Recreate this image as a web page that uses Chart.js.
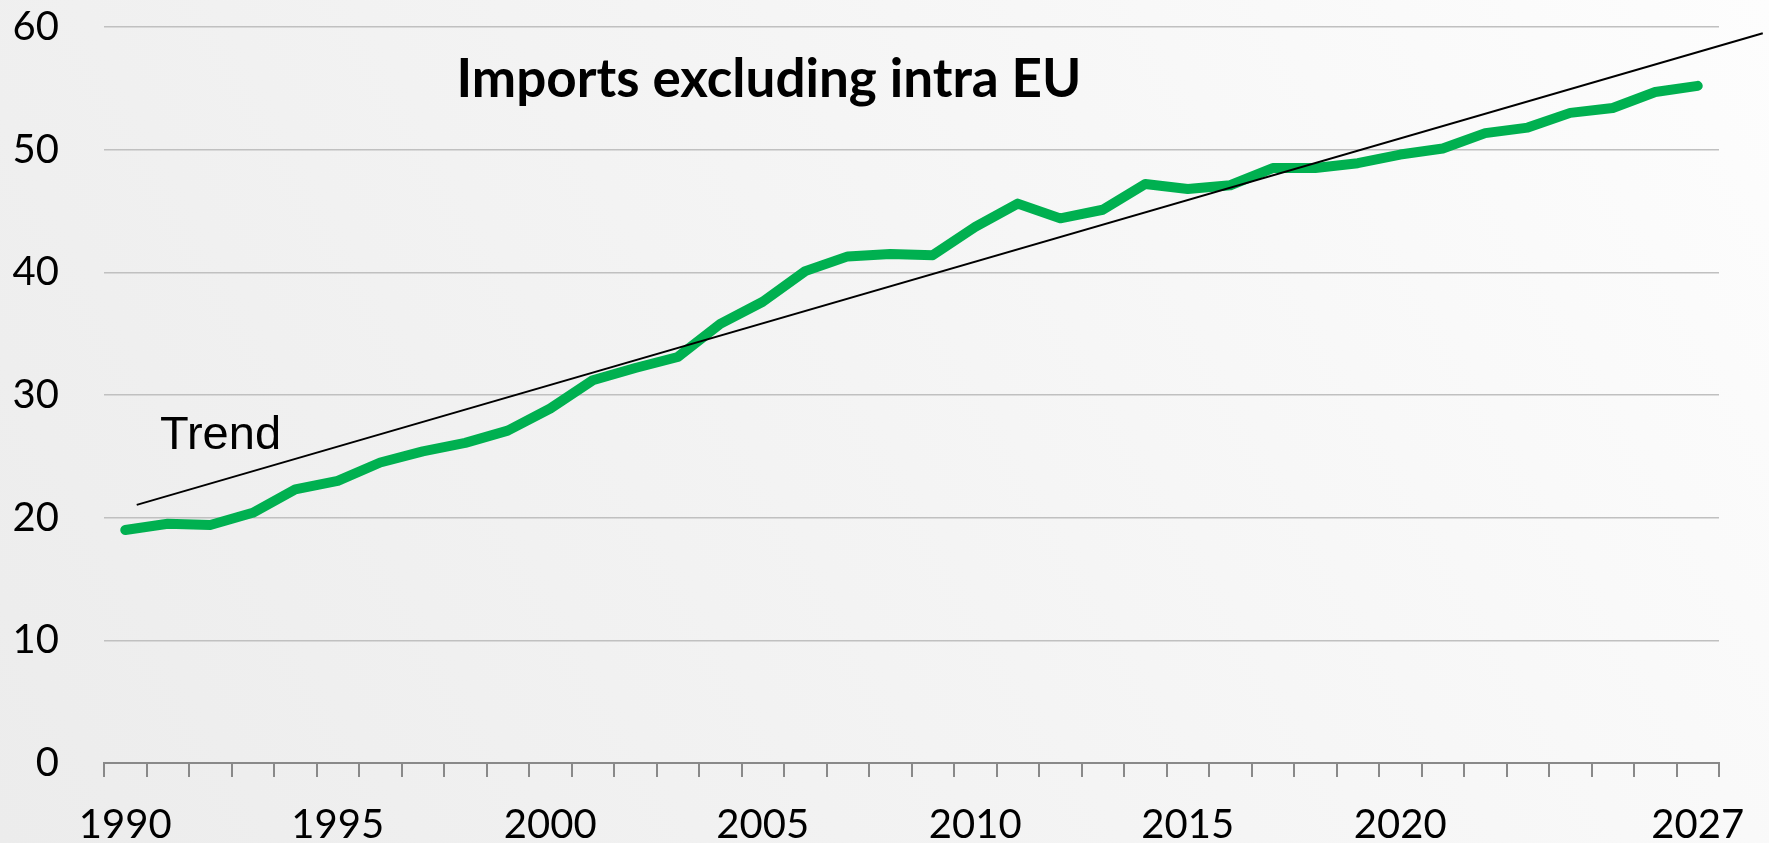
<!DOCTYPE html>
<html>
<head>
<meta charset="utf-8">
<script src="https://cdn.jsdelivr.net/npm/chart.js@4"></script>
<style>
  html, body { margin: 0; padding: 0; overflow: hidden; }
  body { background: linear-gradient(60deg, #ececec 0%, #f4f4f4 50%, #fdfdfd 100%); }
  #wrap { width: 1769px; height: 843px; position: relative; }
</style>
</head>
<body>
<div id="wrap"><canvas id="chart"></canvas></div>
<script>
// categories (years)
var years = [1990, 1991, 1992, 1993, 1994, 1995, 1996, 1997, 1998, 1999,
             2000, 2001, 2002, 2003, 2004, 2005, 2006, 2007, 2008, 2009,
             2010, 2011, 2012, 2013, 2014, 2015, 2016, 2017, 2018, 2019,
             2020, 2021, 2022, 2023, 2024, 2025, 2026, 2027];
// imports excluding intra EU
var imports = [19.0, 19.5, 19.4, 20.4, 22.3, 23.0, 24.5, 25.4, 26.1, 27.1,
               28.9, 31.2, 32.2, 33.1, 35.8, 37.6, 40.1, 41.3, 41.5, 41.4,
               43.7, 45.6, 44.4, 45.1, 47.2, 46.8, 47.1, 48.5, 48.5, 48.9,
               49.6, 50.1, 51.35, 51.8, 53.0, 53.4, 54.7, 55.2];
// trend line end points (x in category index units)
var trendX = [0.27, 38.53];
var trendY = [21.04, 59.49];
// labelled years on x axis
var tickYears = [1990, 1995, 2000, 2005, 2010, 2015, 2020, 2027];
var yTicks = [0, 10, 20, 30, 40, 50, 60];

var trendPts = trendX.map(function (x, i) { return {x: x, y: trendY[i]}; });

var textPlugin = {
    id: 'texts',
    afterDraw: function (chart) {
        var ctx = chart.ctx;
        ctx.save();
        ctx.fillStyle = '#000';
        ctx.textBaseline = 'alphabetic';
        ctx.font = 'bold 53px Lato';
        ctx.textAlign = 'center';
        ctx.fillText('Imports excluding intra EU', 769, 97);
        ctx.font = '47px "Liberation Sans"';
        ctx.textAlign = 'left';
        ctx.fillText('Trend', 160, 449);
        ctx.restore();
    }
};

var ctx = document.getElementById('chart').getContext('2d');
new Chart(ctx, {
    type: 'line',
    data: {
        labels: years,
        datasets: [
            {
                label: 'Trend',
                data: trendPts,
                xAxisID: 'xt',
                borderColor: '#000000',
                borderWidth: 2,
                pointRadius: 0,
                fill: false,
                clip: false
            },
            {
                label: 'Imports excluding intra EU',
                data: imports,
                xAxisID: 'x',
                borderColor: '#00b050',
                borderWidth: 10,
                borderCapStyle: 'round',
                borderJoinStyle: 'round',
                pointRadius: 0,
                tension: 0,
                fill: false
            }
        ]
    },
    options: {
        responsive: true,
        maintainAspectRatio: false,
        animation: false,
        layout: { padding: { top: 27, right: 50, left: 0, bottom: 0 } },
        plugins: { legend: { display: false }, tooltip: { enabled: false } },
        scales: {
            x: {
                type: 'category',
                offset: true,
                grid: {
                    offset: true,
                    drawOnChartArea: false,
                    drawTicks: true,
                    tickLength: 14,
                    color: '#898989',
                    lineWidth: 2
                },
                border: { display: true, color: '#898989', width: 2 },
                ticks: {
                    autoSkip: false,
                    maxRotation: 0,
                    padding: 24,
                    color: '#000',
                    font: { family: 'Lato', size: 40 },
                    callback: function (value, index) {
                        var y = years[index];
                        return tickYears.indexOf(y) >= 0 ? String(y) : '';
                    }
                },
                afterFit: function (scale) { scale.height = 80; }
            },
            xt: {
                type: 'linear',
                display: false,
                min: -0.5,
                max: years.length - 0.5
            },
            y: {
                min: 0,
                max: 60,
                afterBuildTicks: function (scale) {
                    scale.ticks = yTicks.map(function (v) { return {value: v}; });
                },
                grid: {
                    color: '#c0c0c0',
                    lineWidth: 1.5,
                    drawTicks: true,
                    tickLength: 45,
                    tickColor: 'rgba(0,0,0,0)'
                },
                border: { display: false },
                ticks: {
                    padding: 0,
                    color: '#000',
                    font: { family: 'Lato', size: 40 }
                },
                afterFit: function (scale) { scale.width = 104; }
            }
        }
    },
    plugins: [textPlugin]
});
</script>
</body>
</html>
